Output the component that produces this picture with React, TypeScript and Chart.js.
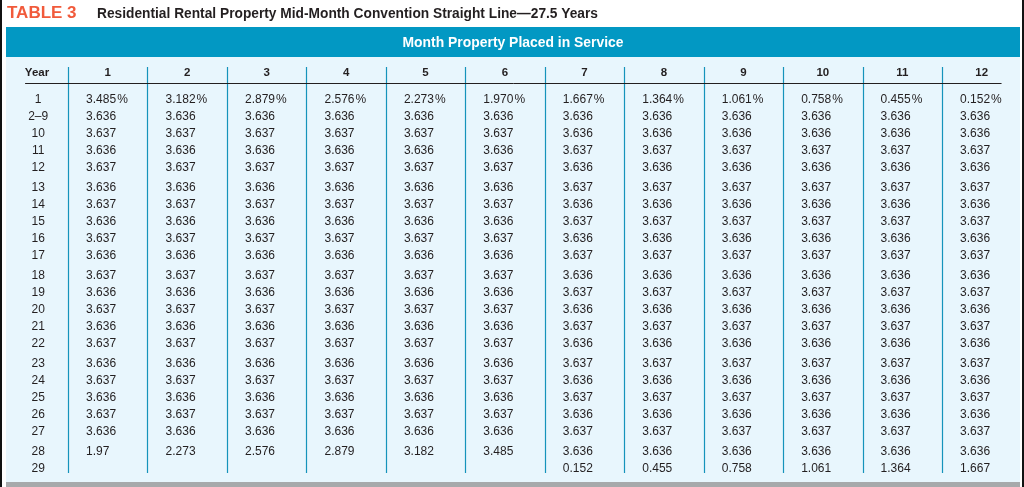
import React, { useEffect, useRef } from "react";
import { Chart, registerables } from "chart.js";

Chart.register(...registerables);

const TITLE_TAG = "TABLE 3";
const TITLE = "Residential Rental Property Mid-Month Convention Straight Line\u201427.5 Years";
const BAND_TITLE = "Month Property Placed in Service";
const YEAR_HEADER = "Year";
const MONTHS = ["1", "2", "3", "4", "5", "6", "7", "8", "9", "10", "11", "12"];
const YEARS = ["1", "2\u20139", "10", "11", "12", "13", "14", "15", "16", "17", "18", "19", "20", "21", "22", "23", "24", "25", "26", "27", "28", "29"];

const m1 = [3.485, 3.636, 3.637, 3.636, 3.637, 3.636, 3.637, 3.636, 3.637, 3.636, 3.637, 3.636, 3.637, 3.636, 3.637, 3.636, 3.637, 3.636, 3.637, 3.636, 1.97, null];
const m2 = [3.182, 3.636, 3.637, 3.636, 3.637, 3.636, 3.637, 3.636, 3.637, 3.636, 3.637, 3.636, 3.637, 3.636, 3.637, 3.636, 3.637, 3.636, 3.637, 3.636, 2.273, null];
const m3 = [2.879, 3.636, 3.637, 3.636, 3.637, 3.636, 3.637, 3.636, 3.637, 3.636, 3.637, 3.636, 3.637, 3.636, 3.637, 3.636, 3.637, 3.636, 3.637, 3.636, 2.576, null];
const m4 = [2.576, 3.636, 3.637, 3.636, 3.637, 3.636, 3.637, 3.636, 3.637, 3.636, 3.637, 3.636, 3.637, 3.636, 3.637, 3.636, 3.637, 3.636, 3.637, 3.636, 2.879, null];
const m5 = [2.273, 3.636, 3.637, 3.636, 3.637, 3.636, 3.637, 3.636, 3.637, 3.636, 3.637, 3.636, 3.637, 3.636, 3.637, 3.636, 3.637, 3.636, 3.637, 3.636, 3.182, null];
const m6 = [1.970, 3.636, 3.637, 3.636, 3.637, 3.636, 3.637, 3.636, 3.637, 3.636, 3.637, 3.636, 3.637, 3.636, 3.637, 3.636, 3.637, 3.636, 3.637, 3.636, 3.485, null];
const m7 = [1.667, 3.636, 3.636, 3.637, 3.636, 3.637, 3.636, 3.637, 3.636, 3.637, 3.636, 3.637, 3.636, 3.637, 3.636, 3.637, 3.636, 3.637, 3.636, 3.637, 3.636, 0.152];
const m8 = [1.364, 3.636, 3.636, 3.637, 3.636, 3.637, 3.636, 3.637, 3.636, 3.637, 3.636, 3.637, 3.636, 3.637, 3.636, 3.637, 3.636, 3.637, 3.636, 3.637, 3.636, 0.455];
const m9 = [1.061, 3.636, 3.636, 3.637, 3.636, 3.637, 3.636, 3.637, 3.636, 3.637, 3.636, 3.637, 3.636, 3.637, 3.636, 3.637, 3.636, 3.637, 3.636, 3.637, 3.636, 0.758];
const m10 = [0.758, 3.636, 3.636, 3.637, 3.636, 3.637, 3.636, 3.637, 3.636, 3.637, 3.636, 3.637, 3.636, 3.637, 3.636, 3.637, 3.636, 3.637, 3.636, 3.637, 3.636, 1.061];
const m11 = [0.455, 3.636, 3.636, 3.637, 3.636, 3.637, 3.636, 3.637, 3.636, 3.637, 3.636, 3.637, 3.636, 3.637, 3.636, 3.637, 3.636, 3.637, 3.636, 3.637, 3.636, 1.364];
const m12 = [0.152, 3.636, 3.636, 3.637, 3.636, 3.637, 3.636, 3.637, 3.636, 3.637, 3.636, 3.637, 3.636, 3.637, 3.636, 3.637, 3.636, 3.637, 3.636, 3.637, 3.636, 1.667];

const SERIES = [m1, m2, m3, m4, m5, m6, m7, m8, m9, m10, m11, m12];

// layout helpers
const W = 1024;
const H = 487;
const COL_PX = 79.45;
const COL0_PX = 68;
const ROW_PX = 17;
const ROW0_PX = 98.8;
const GAP_ROWS = 3 / 17;

function rowGroup(i: number) {
  return i < 5 ? 0 : Math.floor((i - 5) / 5) + 1;
}
function rowPos(i: number) {
  return i + rowGroup(i) * GAP_ROWS;
}
function fmt(v: number | null, i: number) {
  if (v === null || v === undefined) return "";
  return i === 0 ? v.toFixed(3) + "\u200A%" : String(v);
}

const FONT = "'Liberation Sans', Arial, Helvetica, sans-serif";

const tablePlugin = {
  id: "tablePlugin",
  beforeDraw(chart: any) {
    const ctx = chart.ctx as CanvasRenderingContext2D;
    const xs = chart.scales.x;
    const ys = chart.scales.y;
    ctx.save();
    // page background
    ctx.fillStyle = "#ffffff";
    ctx.fillRect(0, 0, W, H);
    // outer black borders
    ctx.fillStyle = "#111111";
    ctx.fillRect(0, 0, 2, H);
    ctx.fillRect(1022, 0, 2, H);
    // light panel
    ctx.fillStyle = "#e8f6fd";
    ctx.fillRect(6, 57, 1014, 425);
    // blue band
    ctx.fillStyle = "#0298c3";
    ctx.fillRect(6, 27, 1014, 30);
    // bottom grey bar
    ctx.fillStyle = "#a7a9ab";
    ctx.fillRect(6, 482, 1014, 5);

    // titles
    ctx.textBaseline = "alphabetic";
    ctx.textAlign = "left";
    ctx.fillStyle = "#f15a3b";
    ctx.font = `bold 17px ${FONT}`;
    ctx.fillText(TITLE_TAG, 7, 18, 71);
    ctx.fillStyle = "#231f20";
    ctx.font = `bold 14px ${FONT}`;
    ctx.fillText(TITLE, 97, 18, 501);

    ctx.fillStyle = "#ffffff";
    ctx.font = `bold 14.5px ${FONT}`;
    ctx.textAlign = "center";
    ctx.fillText(BAND_TITLE, 513, 47, 221);

    // vertical dividers
    ctx.strokeStyle = "#1593bb";
    ctx.lineWidth = 1.2;
    for (let k = 0; k < MONTHS.length; k++) {
      const x = Math.round(xs.getPixelForValue(k)) + 0.5;
      ctx.beginPath();
      ctx.moveTo(x, 67);
      ctx.lineTo(x, 473);
      ctx.stroke();
    }
    // header underline
    ctx.strokeStyle = "#231f20";
    ctx.lineWidth = 1;
    ctx.beginPath();
    ctx.moveTo(xs.getPixelForValue(-0.54), 83.5);
    ctx.lineTo(xs.getPixelForValue(11.75), 83.5);
    ctx.stroke();

    // column headers
    ctx.fillStyle = "#231f20";
    ctx.font = `bold 11.5px ${FONT}`;
    ctx.textAlign = "center";
    ctx.fillText(YEAR_HEADER, xs.getPixelForValue(-0.39), 76, 26);
    MONTHS.forEach((m, k) => {
      ctx.fillText(m, xs.getPixelForValue(k + 0.5), 76);
    });

    // year labels
    ctx.font = `12px ${FONT}`;
    ctx.fillStyle = "#231f20";
    YEARS.forEach((y, i) => {
      const py = ys.getPixelForValue(rowPos(i)) + 4.3;
      ctx.textAlign = "center";
      ctx.fillText(y, xs.getPixelForValue(-0.375), py);
    });

    // cells
    ctx.textAlign = "left";
    SERIES.forEach((s, k) => {
      s.forEach((v, i) => {
        const t = fmt(v, i);
        if (!t) return;
        const px = xs.getPixelForValue(k + 0.228);
        const py = ys.getPixelForValue(rowPos(i)) + 4.3;
        ctx.fillText(t, px, py);
      });
    });
    ctx.restore();
  },
};

export default function App() {
  const ref = useRef<HTMLCanvasElement | null>(null);
  useEffect(() => {
    if (!ref.current) return;
    const datasets = SERIES.map((s, k) => ({
      label: MONTHS[k],
      data: s
        .map((v, i) => (v === null ? null : { x: k + 0.5, y: rowPos(i) }))
        .filter((p) => p !== null),
      pointRadius: 0,
      showLine: false,
    }));
    const chart = new Chart(ref.current, {
      type: "scatter",
      data: { datasets: datasets as any },
      options: {
        animation: false,
        responsive: false,
        devicePixelRatio: 1,
        layout: { padding: 0 },
        plugins: {
          legend: { display: false },
          tooltip: { enabled: false },
          title: { display: false },
        },
        scales: {
          x: {
            type: "linear",
            display: false,
            min: -COL0_PX / COL_PX,
            max: (W - COL0_PX) / COL_PX,
          },
          y: {
            type: "linear",
            display: false,
            reverse: true,
            min: -ROW0_PX / ROW_PX,
            max: (H - ROW0_PX) / ROW_PX,
          },
        },
      },
      plugins: [tablePlugin],
    });
    return () => chart.destroy();
  }, []);
  return (
    <div style={{ position: "absolute", left: 0, top: 0, width: W, height: H }}>
      <canvas ref={ref} width={W} height={H} style={{ display: "block" }} />
    </div>
  );
}
